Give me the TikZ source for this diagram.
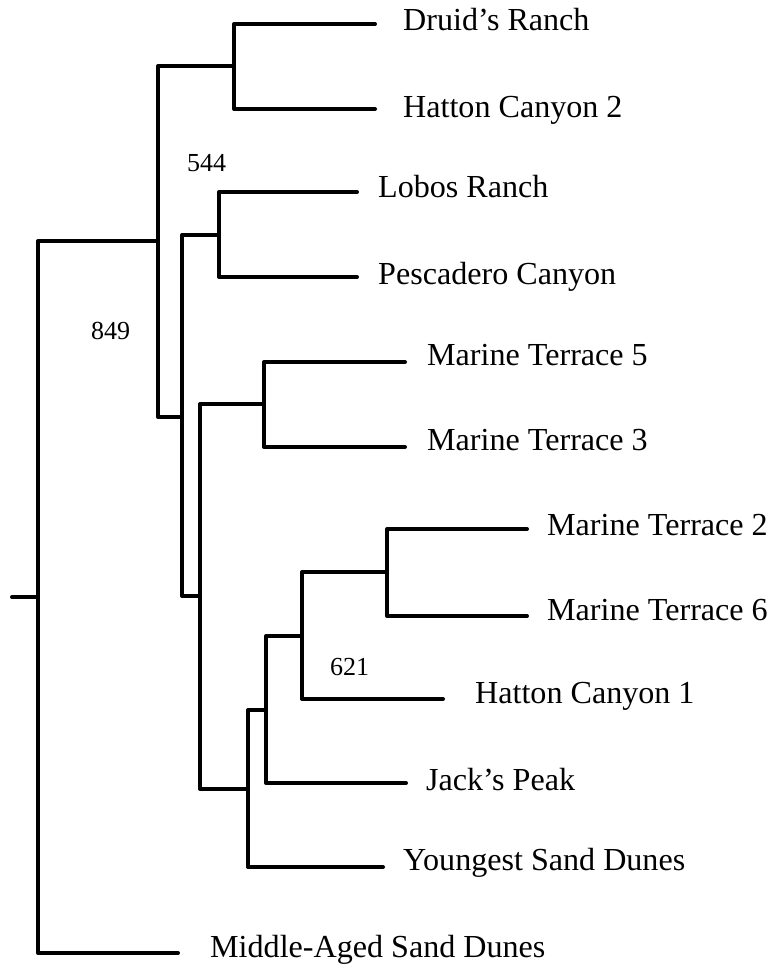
\documentclass[tikz,border=0pt]{standalone}
\usepackage{fontspec}
\setmainfont{Liberation Serif}
\tikzset{
  branch/.style={line width=4pt, line cap=round, line join=round},
  taxon/.style={anchor=base west, inner sep=0pt, font=\fontsize{32.1}{38}\selectfont},
  support/.style={anchor=base west, inner sep=0pt, font=\fontsize{26}{31}\selectfont},
}
\begin{document}
\begin{tikzpicture}[x=1pt, y=-1pt]
  \path[use as bounding box] (0,0) rectangle (773,968);

  % internal nodes of the tree
  \coordinate (stub) at (12,597);
  \coordinate (R)   at (38,597);
  \coordinate (n1)  at (158,241);
  \coordinate (n2)  at (234,66);
  \coordinate (n3)  at (182,417);
  \coordinate (n4)  at (219,235);
  \coordinate (n5)  at (200,596);
  \coordinate (n6)  at (264,404);
  \coordinate (n7)  at (248,789);
  \coordinate (n8)  at (266,710);
  \coordinate (n9)  at (302,636);
  \coordinate (n10) at (387,572);

  % tips of the terminal branches
  \coordinate (tDR)  at (375,24);
  \coordinate (tHC2) at (375,109);
  \coordinate (tLR)  at (357,192);
  \coordinate (tPC)  at (357,277);
  \coordinate (tMT5) at (405,362);
  \coordinate (tMT3) at (405,447);
  \coordinate (tMT2) at (527,529);
  \coordinate (tMT6) at (527,616);
  \coordinate (tHC1) at (443,699);
  \coordinate (tJP)  at (406,783);
  \coordinate (tYSD) at (383,867);
  \coordinate (tMSD) at (178,953);

  % branches
  \draw[branch] (stub) -- (R);
  \draw[branch] (R) |- (n1);
  \draw[branch] (R) |- (tMSD);
  \draw[branch] (n1) |- (n2);
  \draw[branch] (n1) |- (n3);
  \draw[branch] (n2) |- (tDR);
  \draw[branch] (n2) |- (tHC2);
  \draw[branch] (n3) |- (n4);
  \draw[branch] (n3) |- (n5);
  \draw[branch] (n4) |- (tLR);
  \draw[branch] (n4) |- (tPC);
  \draw[branch] (n5) |- (n6);
  \draw[branch] (n5) |- (n7);
  \draw[branch] (n6) |- (tMT5);
  \draw[branch] (n6) |- (tMT3);
  \draw[branch] (n7) |- (n8);
  \draw[branch] (n7) |- (tYSD);
  \draw[branch] (n8) |- (n9);
  \draw[branch] (n8) |- (tJP);
  \draw[branch] (n9) |- (n10);
  \draw[branch] (n9) |- (tHC1);
  \draw[branch] (n10) |- (tMT2);
  \draw[branch] (n10) |- (tMT6);

  % taxon labels
  \node[taxon] (lDR)  at (403,31)  {Druid’s Ranch};
  \node[taxon] (lHC2) at (403,118) {Hatton Canyon 2};
  \node[taxon] (lLR)  at (378,198) {Lobos Ranch};
  \node[taxon] (lPC)  at (378,284) {Pescadero Canyon};
  \node[taxon] (lMT5) at (427,365) {Marine Terrace 5};
  \node[taxon] (lMT3) at (427,450) {Marine Terrace 3};
  \node[taxon] (lMT2) at (547,535) {Marine Terrace 2};
  \node[taxon] (lMT6) at (547,620) {Marine Terrace 6};
  \node[taxon] (lHC1) at (475,703) {Hatton Canyon 1};
  \node[taxon] (lJP)  at (426,790) {Jack’s Peak};
  \node[taxon] (lYSD) at (403,870) {Youngest Sand Dunes};
  \node[taxon] (lMSD) at (210,957) {Middle-Aged Sand Dunes};

  % bootstrap support values
  \node[support] (b544) at (187,172) {544};
  \node[support] (b849) at (91,339)  {849};
  \node[support] (b621) at (330,675) {621};
\end{tikzpicture}
\end{document}
